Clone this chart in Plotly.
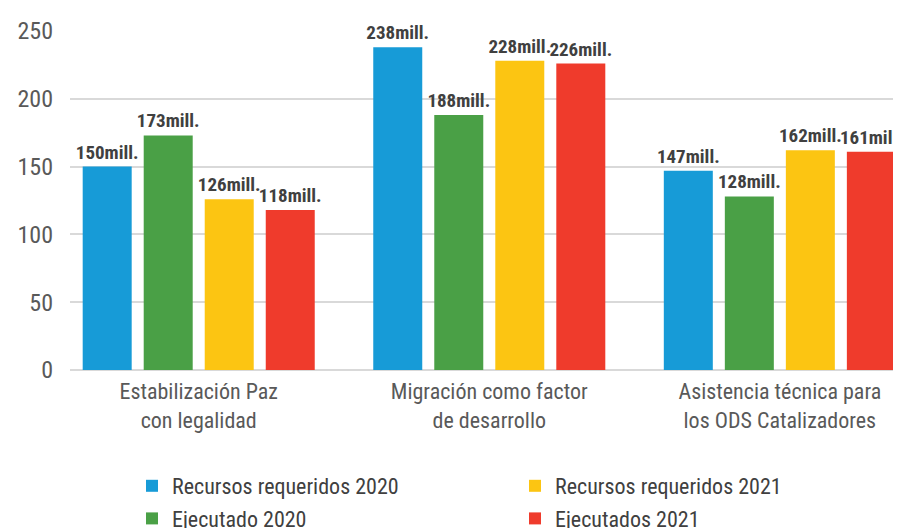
import plotly.graph_objects as go

categories = ["Estabilización Paz<br>con legalidad", "Migración como factor<br>de desarrollo",
              "Asistencia técnica para<br>los ODS Catalizadores"]
series_names = ["Recursos requeridos 2020", "Ejecutado 2020", "Recursos requeridos 2021", "Ejecutados 2021"]
values = [
    [150, 238, 147],
    [173, 188, 128],
    [126, 228, 162],
    [118, 226, 161],
]
colors = ["#179BD7", "#4AA046", "#FCC512", "#EF3B2C"]
legend_ids = ["legend", "legend", "legend2", "legend2"]
y_ticks = [0, 50, 100, 150, 200, 250]

FONT = "Roboto Condensed, Liberation Sans Narrow, Roboto, sans-serif"

fig = go.Figure()
for i, name in enumerate(series_names):
    fig.add_trace(go.Bar(
        x=[0, 1, 2], y=values[i], name=name,
        marker=dict(color=colors[i], line=dict(width=0)),
        text=[f"{v}mill." for v in values[i]],
        textposition="outside", constraintext="none", cliponaxis=False,
        textfont=dict(family=FONT, size=19, color="#404040", weight="bold"),
        legend=legend_ids[i], legendgroup=name,
    ))

fig.update_layout(
    width=901, height=528,
    margin=dict(l=62, r=8, t=23, b=166, autoexpand=False),
    plot_bgcolor="white", paper_bgcolor="white",
    barmode="group", bargap=0.16, bargroupgap=0.197,
    font=dict(family=FONT, color="#595959"),
    xaxis=dict(
        tickmode="array", tickvals=[0, 1, 2], ticktext=categories,
        range=[-0.443, 2.417], showgrid=False, showline=False, zeroline=False,
        tickfont=dict(size=22, color="#595959"), ticks="", tickangle=0,
        ticklabelstandoff=6,
    ),
    yaxis=dict(
        range=[0, 250], tickmode="array", tickvals=y_ticks,
        showgrid=True, gridcolor="#D9D9D9", gridwidth=2,
        zeroline=True, zerolinecolor="#D9D9D9", zerolinewidth=2,
        tickfont=dict(size=24, color="#595959"), ticklabelstandoff=16,
    ),
    legend=dict(
        xref="container", yref="container", x=124 / 901, y=1 - 457 / 528,
        xanchor="left", yanchor="top", orientation="v",
        font=dict(size=22, color="#404040"), tracegroupgap=1,
        bgcolor="rgba(0,0,0,0)",
    ),
    legend2=dict(
        xref="container", yref="container", x=507 / 901, y=1 - 457 / 528,
        xanchor="left", yanchor="top", orientation="v",
        font=dict(size=22, color="#404040"), tracegroupgap=1,
        bgcolor="rgba(0,0,0,0)",
    ),
)

fig.write_html("out.html")
